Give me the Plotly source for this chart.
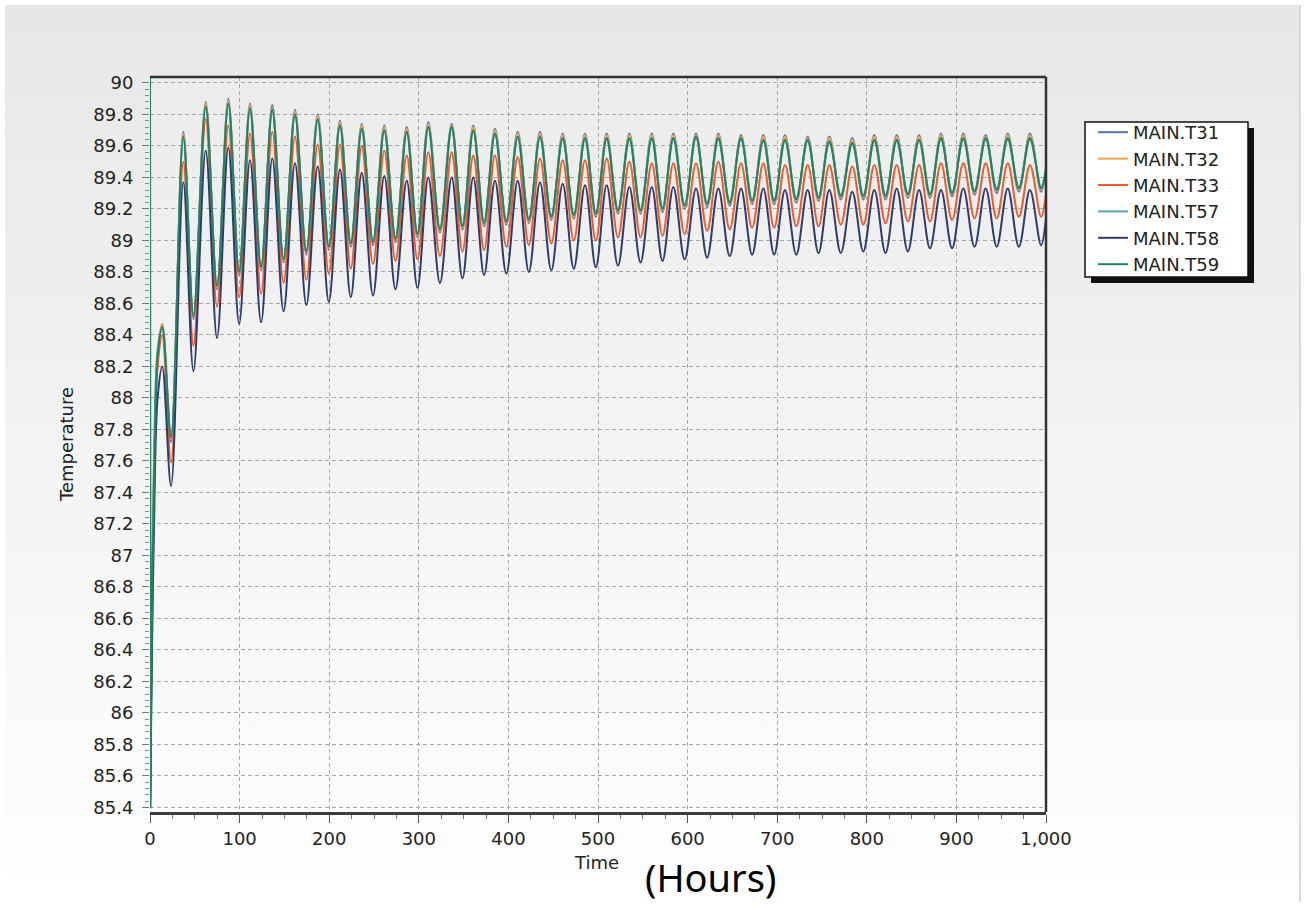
import base64
import plotly.graph_objects as go

# ---- data -------------------------------------------------------------
series_names = ["MAIN.T31", "MAIN.T32", "MAIN.T33", "MAIN.T57", "MAIN.T58", "MAIN.T59"]
series_colors = ["#5572b8", "#f5a24a", "#f0592a", "#58a8aa", "#2c3c70", "#23825f"]

# start-up transient (hours / temperature)
t_start = [0.0, 1.5, 4.5, 8.5]
start_t31 = [85.40, 86.30, 87.50, 88.25]
start_t32 = [85.40, 86.40, 87.60, 88.30]
start_t33 = [85.40, 86.20, 87.40, 88.20]
start_t57 = [85.40, 86.40, 87.60, 88.30]
start_t58 = [85.40, 86.10, 87.20, 88.00]
t_start_t59 = [0.0, 0.6, 2.0, 5.0, 9.0]
start_t59 = [90.30, 85.40, 86.50, 87.60, 88.30]

# daily cycle: times of the maxima and minima (hours)
t_peak = [13.7, 37.2, 62.2, 87.4, 111.6, 136.5, 161.8, 187.2, 212.0, 236.3,
          261.5, 286.5, 310.6, 336.7, 360.8, 385.0, 410.4, 435.3, 460.6, 485.5,
          509.7, 535.0, 560.0, 584.1, 609.4, 634.3, 659.6, 684.5, 708.7, 734.0,
          758.2, 783.8, 808.4, 833.4, 858.3, 882.8, 907.7, 932.7, 957.3, 982.1]
t_trough = [23.5, 48.5, 74.8, 99.5, 124.0, 149.1, 174.5, 199.6, 224.1, 248.9,
            274.0, 298.5, 323.6, 348.7, 372.9, 397.7, 422.8, 447.9, 473.0, 497.6,
            522.3, 547.5, 572.0, 596.7, 621.8, 647.0, 672.0, 696.6, 721.3, 746.1,
            771.0, 796.1, 820.9, 845.8, 870.5, 895.2, 920.2, 945.0, 969.7, 994.5]
t_end = 1000.0

peak_t31 = [88.47, 89.69, 89.88, 89.90, 89.87, 89.86, 89.83, 89.80, 89.76, 89.74,
            89.73, 89.72, 89.75, 89.74, 89.73, 89.71, 89.69, 89.69, 89.68, 89.68,
            89.68, 89.68, 89.68, 89.68, 89.68, 89.68, 89.67, 89.67, 89.67, 89.66,
            89.66, 89.65, 89.67, 89.67, 89.67, 89.68, 89.68, 89.67, 89.68, 89.68]
trough_t31 = [87.72, 88.50, 88.69, 88.78, 88.81, 88.86, 88.91, 88.94, 88.96, 88.97,
              88.99, 89.02, 89.05, 89.07, 89.09, 89.10, 89.11, 89.13, 89.14, 89.15,
              89.17, 89.17, 89.18, 89.20, 89.21, 89.22, 89.23, 89.23, 89.24, 89.25,
              89.26, 89.26, 89.26, 89.27, 89.27, 89.28, 89.29, 89.30, 89.31, 89.31]
end_t31 = 89.44

peak_t32 = [88.47, 89.68, 89.87, 89.89, 89.86, 89.84, 89.82, 89.79, 89.75, 89.73,
            89.72, 89.71, 89.74, 89.73, 89.72, 89.70, 89.68, 89.68, 89.67, 89.67,
            89.67, 89.67, 89.67, 89.67, 89.67, 89.67, 89.66, 89.66, 89.66, 89.65,
            89.65, 89.64, 89.66, 89.66, 89.66, 89.67, 89.67, 89.66, 89.67, 89.67]
trough_t32 = [87.74, 88.51, 88.70, 88.79, 88.82, 88.87, 88.92, 88.95, 88.97, 88.98,
              89.00, 89.03, 89.06, 89.08, 89.10, 89.11, 89.12, 89.14, 89.15, 89.16,
              89.18, 89.18, 89.19, 89.21, 89.22, 89.23, 89.24, 89.24, 89.25, 89.26,
              89.27, 89.27, 89.27, 89.28, 89.28, 89.29, 89.30, 89.31, 89.32, 89.32]
end_t32 = 89.46

peak_t33 = [88.40, 89.50, 89.77, 89.73, 89.68, 89.69, 89.66, 89.61, 89.61, 89.60,
            89.57, 89.54, 89.56, 89.56, 89.54, 89.54, 89.53, 89.52, 89.51, 89.51,
            89.52, 89.50, 89.49, 89.49, 89.49, 89.50, 89.49, 89.49, 89.48, 89.48,
            89.48, 89.47, 89.48, 89.48, 89.48, 89.49, 89.49, 89.49, 89.49, 89.48]
trough_t33 = [87.59, 88.33, 88.58, 88.64, 88.66, 88.73, 88.75, 88.79, 88.82, 88.85,
              88.87, 88.88, 88.90, 88.93, 88.94, 88.96, 88.97, 88.98, 89.00, 89.00,
              89.02, 89.02, 89.03, 89.04, 89.06, 89.07, 89.08, 89.08, 89.09, 89.09,
              89.10, 89.10, 89.11, 89.12, 89.12, 89.13, 89.14, 89.14, 89.15, 89.15]
end_t33 = 89.29

peak_t57 = [88.44, 89.65, 89.84, 89.86, 89.83, 89.82, 89.79, 89.76, 89.72, 89.70,
            89.69, 89.68, 89.71, 89.71, 89.69, 89.67, 89.65, 89.65, 89.64, 89.64,
            89.64, 89.64, 89.64, 89.64, 89.65, 89.64, 89.64, 89.63, 89.63, 89.63,
            89.62, 89.61, 89.63, 89.63, 89.63, 89.64, 89.64, 89.64, 89.64, 89.64]
trough_t57 = [87.76, 88.53, 88.72, 88.81, 88.84, 88.89, 88.94, 88.97, 88.99, 89.00,
              89.02, 89.05, 89.08, 89.10, 89.12, 89.13, 89.14, 89.16, 89.17, 89.18,
              89.20, 89.20, 89.21, 89.23, 89.24, 89.25, 89.26, 89.26, 89.27, 89.28,
              89.29, 89.29, 89.29, 89.30, 89.30, 89.31, 89.32, 89.33, 89.34, 89.34]
end_t57 = 89.46

peak_t58 = [88.20, 89.37, 89.57, 89.59, 89.51, 89.52, 89.49, 89.47, 89.45, 89.43,
            89.41, 89.38, 89.40, 89.40, 89.40, 89.38, 89.38, 89.37, 89.36, 89.35,
            89.35, 89.34, 89.34, 89.34, 89.33, 89.33, 89.33, 89.33, 89.32, 89.32,
            89.32, 89.31, 89.32, 89.33, 89.32, 89.32, 89.33, 89.33, 89.33, 89.32]
trough_t58 = [87.44, 88.17, 88.38, 88.47, 88.48, 88.55, 88.59, 88.61, 88.64, 88.65,
              88.69, 88.70, 88.73, 88.76, 88.78, 88.79, 88.80, 88.81, 88.82, 88.83,
              88.84, 88.86, 88.87, 88.88, 88.89, 88.90, 88.91, 88.91, 88.91, 88.92,
              88.92, 88.93, 88.92, 88.93, 88.95, 88.95, 88.96, 88.96, 88.96, 88.97]
end_t58 = 89.14

peak_t59 = [88.45, 89.66, 89.85, 89.87, 89.84, 89.83, 89.80, 89.77, 89.73, 89.71,
            89.70, 89.69, 89.72, 89.72, 89.70, 89.68, 89.66, 89.66, 89.65, 89.65,
            89.65, 89.65, 89.65, 89.65, 89.66, 89.65, 89.65, 89.64, 89.64, 89.64,
            89.63, 89.62, 89.64, 89.64, 89.64, 89.65, 89.65, 89.65, 89.65, 89.65]
trough_t59 = [87.75, 88.52, 88.71, 88.80, 88.83, 88.88, 88.93, 88.96, 88.98, 88.99,
              89.01, 89.04, 89.07, 89.09, 89.11, 89.12, 89.13, 89.15, 89.16, 89.17,
              89.19, 89.19, 89.20, 89.22, 89.23, 89.24, 89.25, 89.25, 89.26, 89.27,
              89.28, 89.28, 89.28, 89.29, 89.29, 89.30, 89.31, 89.32, 89.33, 89.33]
end_t59 = 89.45

y_tick_vals = [85.4, 85.6, 85.8, 86.0, 86.2, 86.4, 86.6, 86.8, 87.0, 87.2, 87.4, 87.6,
               87.8, 88.0, 88.2, 88.4, 88.6, 88.8, 89.0, 89.2, 89.4, 89.6, 89.8, 90.0]
y_tick_text = ["85.4", "85.6", "85.8", "86", "86.2", "86.4", "86.6", "86.8", "87", "87.2",
               "87.4", "87.6", "87.8", "88", "88.2", "88.4", "88.6", "88.8", "89", "89.2",
               "89.4", "89.6", "89.8", "90"]
x_tick_vals = [0, 100, 200, 300, 400, 500, 600, 700, 800, 900, 1000]
x_tick_text = ["0", "100", "200", "300", "400", "500", "600", "700", "800", "900", "1,000"]

# ---- geometry helpers (pixel -> paper) ---------------------------------
W, H = 1307, 906
ML, MR, MT, MB = 150, 261, 77, 94
PW, PH = W - ML - MR, H - MT - MB


def px(xp):
    return (xp - ML) / PW


def py(yp):
    return (H - MB - yp) / PH


def cycle_series(ts, vs, peaks, troughs, end):
    xs, ys = list(ts), list(vs)
    for tp, vp, tt, vt in zip(t_peak, peaks, t_trough, troughs):
        xs += [tp, tt]
        ys += [vp, vt]
    xs.append(t_end)
    ys.append(end)
    return xs, ys


series_data = [
    cycle_series(t_start, start_t31, peak_t31, trough_t31, end_t31),
    cycle_series(t_start, start_t32, peak_t32, trough_t32, end_t32),
    cycle_series(t_start, start_t33, peak_t33, trough_t33, end_t33),
    cycle_series(t_start, start_t57, peak_t57, trough_t57, end_t57),
    cycle_series(t_start, start_t58, peak_t58, trough_t58, end_t58),
    cycle_series(t_start_t59, start_t59, peak_t59, trough_t59, end_t59),
]

fig = go.Figure()
for name, color, (xs, ys) in zip(series_names, series_colors, series_data):
    fig.add_trace(go.Scatter(
        x=xs, y=ys, name=name, mode="lines",
        line=dict(color=color, width=2, shape="spline", smoothing=1.0),
    ))


def gradient_svg(top, bottom):
    svg = (
        '<svg xmlns="http://www.w3.org/2000/svg" width="100" height="100" '
        'preserveAspectRatio="none">'
        '<defs><linearGradient id="g" x1="0" y1="0" x2="0" y2="1">'
        f'<stop offset="0" stop-color="{top}"/>'
        f'<stop offset="1" stop-color="{bottom}"/>'
        '</linearGradient></defs>'
        '<rect width="100" height="100" fill="url(#g)"/></svg>'
    )
    return "data:image/svg+xml;base64," + base64.b64encode(svg.encode()).decode()


images = [
    # panel background
    dict(source=gradient_svg("#e7e7e7", "#ffffff"), xref="paper", yref="paper",
         x=px(5), y=py(5), sizex=px(1300) - px(5), sizey=py(5) - py(902),
         sizing="stretch", xanchor="left", yanchor="top", layer="below"),
    # plotting area
    dict(source=gradient_svg("#ececec", "#fcfcfc"), xref="paper", yref="paper",
         x=0, y=1, sizex=1, sizey=1,
         sizing="stretch", xanchor="left", yanchor="top", layer="below"),
]

# legend frame (box + drop shadow), drawn under the legend entries
LEG_L, LEG_T, LEG_R, LEG_B = 1085, 122, 1248, 277
SHADOW = 6
shapes = [
    dict(type="rect", xref="paper", yref="paper",
         x0=px(LEG_L + SHADOW), x1=px(LEG_R + SHADOW),
         y0=py(LEG_B + SHADOW), y1=py(LEG_T + SHADOW),
         fillcolor="#111111", line=dict(width=0), layer="above"),
    dict(type="rect", xref="paper", yref="paper",
         x0=px(LEG_L), x1=px(LEG_R), y0=py(LEG_B), y1=py(LEG_T),
         fillcolor="#ffffff", line=dict(color="#111111", width=1.5), layer="above"),
    # top and right frame of the plotting area
    dict(type="line", xref="paper", yref="paper", x0=0, x1=1, y0=1, y1=1,
         line=dict(color="#333333", width=2.5)),
    dict(type="line", xref="paper", yref="paper", x0=1, x1=1, y0=0, y1=1,
         line=dict(color="#333333", width=2.5)),
    # right edge of the panel
    dict(type="line", xref="paper", yref="paper", x0=px(1300), x1=px(1300),
         y0=py(5), y1=py(902), line=dict(color="#cfcfcf", width=1.5)),
]

tick_font = dict(family="DejaVu Sans", size=18, color="#222222")
label_font = dict(family="DejaVu Sans", size=18, color="#222222")

fig.update_layout(
    width=W, height=H,
    margin=dict(l=ML, r=MR, t=MT, b=MB, pad=0),
    paper_bgcolor="rgba(0,0,0,0)",
    plot_bgcolor="rgba(0,0,0,0)",
    images=images,
    shapes=shapes,
    showlegend=True,
    legend=dict(
        x=px(1093), y=py(114), xanchor="left", yanchor="top",
        bgcolor="rgba(0,0,0,0)", borderwidth=0,
        font=dict(family="DejaVu Sans", size=18, color="#222222"),
        itemwidth=30, tracegroupgap=0,
    ),
    xaxis=dict(
        range=[0, 1000], tickmode="array", tickvals=x_tick_vals, ticktext=x_tick_text,
        tickfont=tick_font, ticks="outside", ticklen=8, tickcolor="#555555",
        showline=True, linecolor="#3c3c3c", linewidth=3, mirror=False,
        showgrid=True, gridcolor="#a8a8a8", gridwidth=1, griddash="4px,3px",
        zeroline=False,
        minor=dict(dtick=25, ticks="outside", ticklen=4, tickcolor="#777777", showgrid=False),
    ),
    yaxis=dict(
        range=[85.371, 90.038], tickmode="array", tickvals=y_tick_vals, ticktext=y_tick_text,
        tickfont=tick_font, ticks="outside", ticklen=7, tickcolor="#777777",
        ticklabelstandoff=5,
        showline=False, zeroline=False,
        showgrid=True, gridcolor="#a8a8a8", gridwidth=1, griddash="4px,3px",
        minor=dict(dtick=0.04, tick0=85.4, ticks="outside", ticklen=4,
                   tickcolor="#888888", showgrid=False),
    ),
    annotations=[
        dict(text="Temperature", xref="paper", yref="paper", x=px(67), y=py(445),
             xanchor="center", yanchor="middle", showarrow=False, textangle=-90,
             font=label_font),
        dict(text="Time", xref="paper", yref="paper", x=px(596), y=py(862),
             xanchor="center", yanchor="middle", showarrow=False, font=label_font),
        dict(text="(Hours)", xref="paper", yref="paper", x=px(710), y=py(877),
             xanchor="center", yanchor="middle", showarrow=False,
             font=dict(family="Noto Sans", size=38, color="#000000")),
    ],
)

fig.write_html("out.html")
